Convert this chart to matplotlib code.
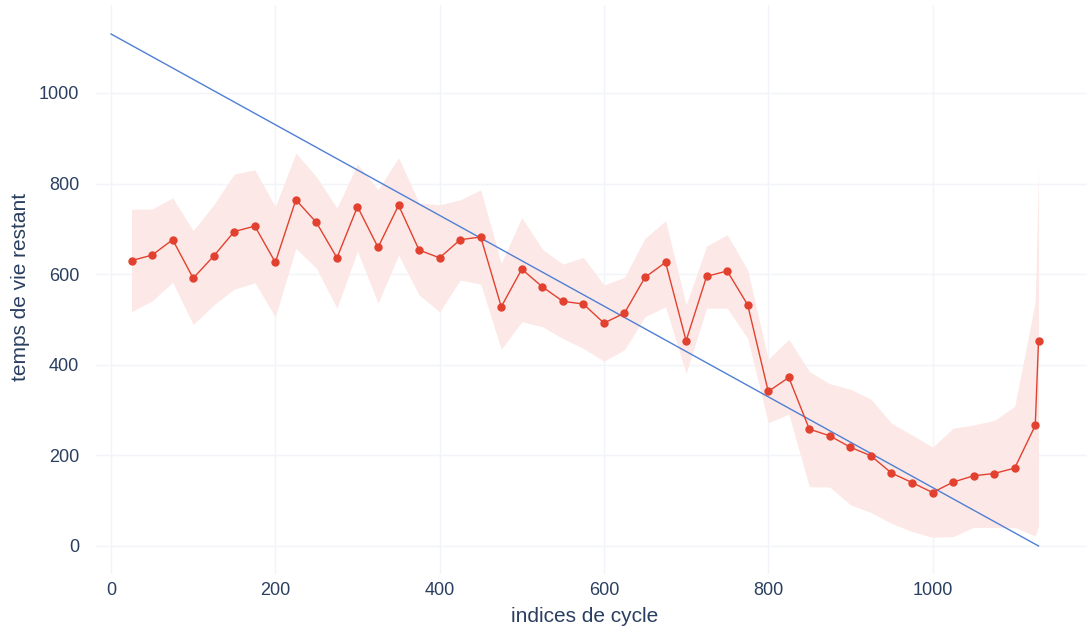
import matplotlib
matplotlib.use("Agg")
import matplotlib.pyplot as plt

plt.rcParams['font.family'] = ['Liberation Sans', 'DejaVu Sans']

# cycle indices where the RUL was predicted
cycles = [25, 50, 75, 100, 125, 150, 175, 200, 225, 250,
          275, 300, 325, 350, 375, 400, 425, 450, 475, 500,
          525, 550, 575, 600, 625, 650, 675, 700, 725, 750,
          775, 800, 825, 850, 875, 900, 925, 950, 975, 1000,
          1025, 1050, 1075, 1100, 1125, 1129]

# mean predicted remaining life
rul_mean = [630, 642, 676, 591, 640, 694, 706, 626, 764, 714,
            636, 749, 659, 752, 653, 636, 676, 682, 528, 611,
            572, 540, 534, 492, 514, 593, 626, 453, 595, 607,
            532, 341, 372, 258, 243, 218, 199, 161, 140, 118,
            141, 155, 160, 172, 266, 453]

# band upper / lower
rul_upper = [743, 744, 768, 696, 753, 821, 830, 749, 867, 815,
             746, 843, 786, 857, 757, 753, 764, 786, 624, 725,
             655, 622, 637, 576, 593, 679, 718, 532, 662, 687,
             609, 412, 456, 385, 358, 346, 324, 271, 245, 218,
             260, 267, 277, 308, 539, 830]

rul_lower = [517, 541, 582, 489, 532, 567, 581, 506, 657, 613,
             525, 651, 536, 642, 554, 517, 587, 578, 434, 495,
             484, 458, 436, 408, 433, 506, 528, 381, 525, 525,
             458, 272, 291, 131, 130, 91, 74, 50, 32, 19,
             21, 41, 41, 41, 22, 43]

# true remaining life (straight line)
true_x = [0, 1129]
true_y = [1130, 0]

xticks = [0, 200, 400, 600, 800, 1000]
yticks = [0, 200, 400, 600, 800, 1000]

txt_col = '#2a3f5f'
grid_col = '#f1f4f9'

fig = plt.figure(figsize=(10.87, 6.29), dpi=100)
ax = fig.add_axes([96/1087, 1 - 574/629, 1 - 96/1087, 569/629])

ax.fill_between(cycles, rul_lower, rul_upper, color='#fce8e6', linewidth=0, zorder=1)
ax.plot(true_x, true_y, color='#4f7fd4', linewidth=1.0, zorder=2)
ax.plot(cycles, rul_mean, color='#e2412f', linewidth=1.0, marker='o',
        markersize=5, zorder=3)

ax.set_xlim(-18.3, 1188)
ax.set_ylim(-61.8, 1194)
ax.set_xticks(xticks)
ax.set_yticks(yticks)
ax.grid(True, color=grid_col, linewidth=1.0, zorder=0)
ax.set_axisbelow(True)
for s in ax.spines.values():
    s.set_visible(False)
ax.tick_params(length=0, labelsize=13, colors=txt_col)
ax.tick_params(axis='y', pad=12)
ax.tick_params(axis='x', pad=6)

fig.text(585/1087, 1 - 616/629, 'indices de cycle', ha='center', va='center',
         fontsize=15, color=txt_col)
fig.text(21/1087, 1 - 287/629, 'temps de vie restant', ha='center', va='center',
         rotation=90, fontsize=15, color=txt_col)

fig.savefig('out.png', dpi=100)
